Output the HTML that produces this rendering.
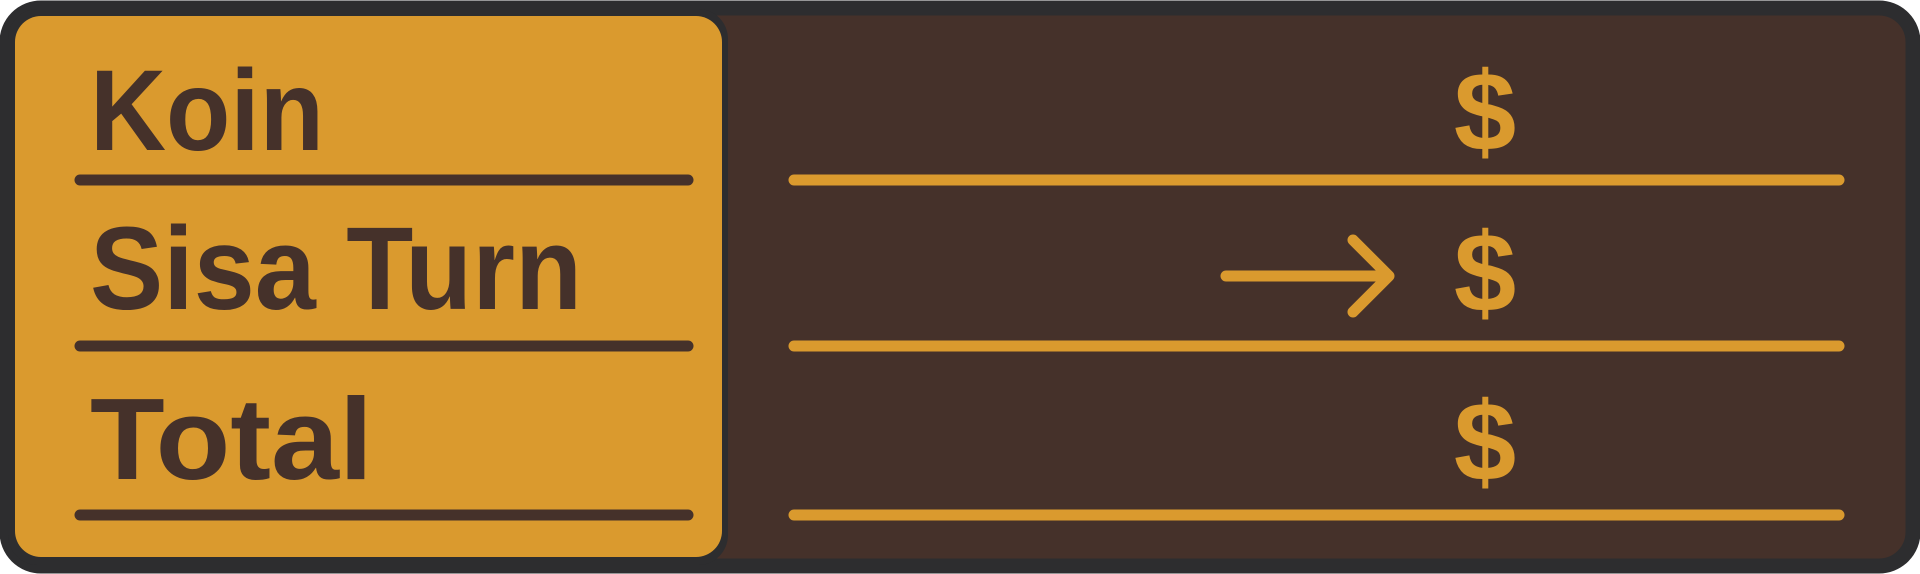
<!DOCTYPE html>
<html><head><meta charset="utf-8"><style>
html,body{margin:0;padding:0;background:#fff;width:1920px;height:574px;overflow:hidden}
svg{display:block}
text{font-family:"Liberation Sans",sans-serif;font-weight:bold}
</style></head><body>
<svg width="1920" height="574" viewBox="0 0 1920 574">
<rect x="7" y="8" width="1906" height="558" rx="34" fill="#45312a" stroke="#2d2d2f" stroke-width="15"/>
<rect x="8" y="9" width="720" height="556" rx="30" fill="#2d2d2f"/>
<rect x="15" y="16" width="707" height="541" rx="26" fill="#da9a2e"/>
<text x="90" y="150" font-size="115" textLength="234" lengthAdjust="spacingAndGlyphs" style="fill:#45312a">Koin</text>
<text x="90" y="309" font-size="118" textLength="492" lengthAdjust="spacingAndGlyphs" style="fill:#45312a">Sisa Turn</text>
<text x="90" y="479" font-size="116" textLength="283" lengthAdjust="spacingAndGlyphs" style="fill:#45312a">Total</text>
<g stroke="#45312a" stroke-width="11" stroke-linecap="round">
<line x1="80" y1="180" x2="688" y2="180"/>
<line x1="80" y1="346" x2="688" y2="346"/>
<line x1="80" y1="515" x2="688" y2="515"/>
</g>
<g stroke="#da9a2e" stroke-width="11" stroke-linecap="round">
<line x1="794" y1="180" x2="1839" y2="180"/>
<line x1="794" y1="346" x2="1839" y2="346"/>
<line x1="794" y1="515" x2="1839" y2="515"/>
</g>
<g stroke="#da9a2e" stroke-width="11" stroke-linecap="round" stroke-linejoin="round" fill="none">
<line x1="1226" y1="276" x2="1388" y2="276"/>
<polyline points="1353,240 1389,276 1353,312"/>
</g>
<text x="1485" y="150" font-size="112" text-anchor="middle" style="fill:#da9a2e">$</text>
<text x="1485" y="311" font-size="112" text-anchor="middle" style="fill:#da9a2e">$</text>
<text x="1485" y="480" font-size="112" text-anchor="middle" style="fill:#da9a2e">$</text>
</svg>
</body></html>
